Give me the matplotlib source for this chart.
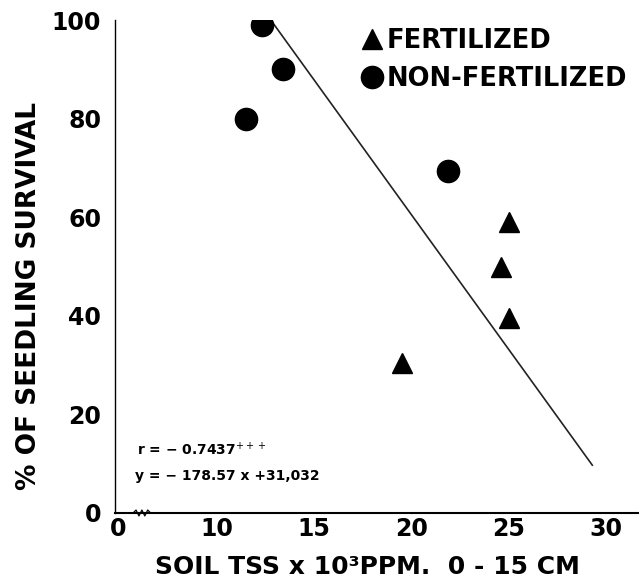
import numpy as np
import matplotlib
matplotlib.use("Agg")
import matplotlib.pyplot as plt
from matplotlib.lines import Line2D

# Data
fert_x = [19.5, 24.6, 25.0, 25.0]
fert_y = [30.4, 49.8, 59.0, 39.6]
nonfert_x = [11.5, 12.3, 13.4, 21.9]
nonfert_y = [80.0, 99.0, 90.0, 69.4]

# regression line end points
fit_x = [12.85, 29.3]
fit_y = [99.6, 9.7]

xticks = [4.95, 10, 15, 20, 25, 30]
xticklabels = ['0', '10', '15', '20', '25', '30']
yticks = [0, 20, 40, 60, 80, 100]

fig = plt.figure(figsize=(6.39, 5.82), dpi=100)
ax = fig.add_axes([0.180, 0.1186, 0.82, 0.847])

ax.plot(fit_x, fit_y, color='#222222', lw=1.2, zorder=2)
ax.plot(nonfert_x, nonfert_y, 'o', color='black', ms=16, zorder=3)
ax.plot(fert_x, fert_y, '^', color='black', ms=15, zorder=3)

ax.set_xlim(4.77, 31.7)
ax.set_ylim(0, 100)
ax.spines['top'].set_visible(False)
ax.spines['right'].set_visible(False)
ax.spines['left'].set_linewidth(1.0)
ax.spines['bottom'].set_linewidth(1.5)
ax.spines['left'].set_bounds(0, 100)

ax.set_xticks(xticks)
ax.set_xticklabels(xticklabels)
ax.set_yticks(yticks)
ax.tick_params(axis='both', length=0, labelsize=17)
ax.tick_params(axis='x', pad=3)
ax.tick_params(axis='y', pad=10)
for lab in ax.get_xticklabels() + ax.get_yticklabels():
    lab.set_fontweight('heavy')

# axis break zigzag
zx = np.linspace(5.7, 6.6, 7)
zy = np.array([0, 1, -1, 1, -1, 1, 0]) * 0.6
ax.plot(zx, zy, color='black', lw=0.9, clip_on=False, zorder=4)

ax.set_xlabel('SOIL TSS x 10³PPM.  0 - 15 CM', fontsize=18, fontweight='heavy')
ax.xaxis.set_label_coords(0.481, -0.085)
ax.set_ylabel('% OF SEEDLING SURVIVAL', fontsize=19, fontweight='heavy')
ax.yaxis.set_label_coords(-0.139, 0.44)

ax.text(5.9, 12.8, 'r = − 0.7437$^{+++}$', fontsize=10, fontweight='bold',
        va='center', ha='left')
ax.text(5.8, 7.5, 'y = − 178.57 x +31,032', fontsize=10, fontweight='bold',
        va='center', ha='left')

handles = [
    Line2D([], [], marker='^', color='black', ls='none', ms=15),
    Line2D([], [], marker='o', color='black', ls='none', ms=16),
]
leg = ax.legend(handles, ['FERTILIZED', 'NON-FERTILIZED'],
                loc='upper left', bbox_to_anchor=(333 / 639, 1 - 5 / 582),
                bbox_transform=fig.transFigure, frameon=False,
                handletextpad=0.0, handlelength=1.2, labelspacing=0.45,
                prop={'size': 18.5, 'weight': 'heavy'})

fig.savefig('out.png', dpi=100)
